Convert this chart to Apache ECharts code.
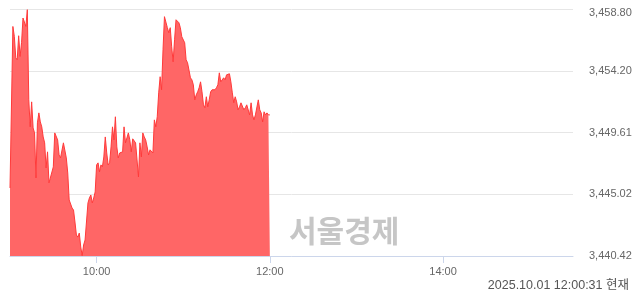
<!DOCTYPE html>
<html>
<head>
<meta charset="utf-8">
<script src="https://cdn.jsdelivr.net/npm/echarts@6/dist/echarts.min.js"></script>
<style>
html,body{margin:0;padding:0;background:#fff;}
#c{width:640px;height:294px;}
</style>
</head>
<body>
<div id="c"></div>
<script>
// ---- data ----
var times = [
"09:00","09:02","09:03","09:04","09:05","09:06","09:07","09:08","09:09","09:10",
"09:11","09:12","09:13","09:14","09:15","09:16","09:17","09:18","09:19","09:20",
"09:21","09:22","09:23","09:24","09:25","09:26","09:27","09:28","09:30","09:31",
"09:33","09:34","09:35","09:37","09:38","09:39","09:40","09:41","09:42","09:43",
"09:44","09:45","09:46","09:47","09:48","09:49","09:50","09:51","09:52","09:53",
"09:54","09:55","09:56","09:57","09:58","09:59","10:00","10:01","10:02","10:03",
"10:04","10:05","10:06","10:07","10:08","10:09","10:10","10:11","10:12","10:13",
"10:14","10:15","10:16","10:17","10:18","10:19","10:20","10:21","10:22","10:23",
"10:24","10:25","10:26","10:27","10:28","10:29","10:30","10:31","10:32","10:33",
"10:34","10:35","10:36","10:37","10:38","10:39","10:40","10:41","10:42","10:43",
"10:44","10:45","10:46","10:47","10:48","10:49","10:50","10:51","10:52","10:53",
"10:54","10:55","10:57","10:58","10:59","11:00","11:01","11:02","11:03","11:04",
"11:05","11:06","11:07","11:08","11:09","11:10","11:11","11:12","11:13","11:14",
"11:15","11:16","11:17","11:18","11:19","11:20","11:22","11:23","11:24","11:25",
"11:26","11:27","11:28","11:29","11:30","11:31","11:32","11:33","11:34","11:35",
"11:36","11:37","11:38","11:39","11:40","11:41","11:42","11:43","11:44","11:45",
"11:46","11:47","11:48","11:49","11:50","11:51","11:52","11:53","11:54","11:55",
"11:56","11:57","11:58","11:59","12:00"
];
var values = [
3445.48,3457.50,3456.76,3455.17,3455.02,3456.81,3455.27,3456.29,3458.13,3458.13,
3457.50,3458.75,3452.04,3450.03,3451.89,3449.95,3449.58,3446.23,3450.33,3451.07,
3450.40,3450.03,3449.28,3448.84,3446.97,3448.17,3445.86,3445.93,3447.05,3449.58,
3449.06,3447.94,3447.72,3448.84,3448.84,3447.72,3446.60,3444.59,3444.59,3443.99,
3443.84,3442.95,3441.98,3441.83,3442.13,3441.09,3440.45,3441.24,3441.61,3441.61,
3444.37,3444.74,3444.96,3444.37,3444.74,3445.19,3447.20,3447.35,3446.68,3447.20,
3447.05,3447.79,3449.28,3448.09,3447.20,3447.35,3448.54,3450.03,3449.06,3450.78,
3448.54,3447.72,3448.09,3448.17,3448.17,3450.03,3448.84,3448.84,3449.58,3449.06,
3448.17,3449.14,3449.28,3448.84,3447.57,3446.30,3448.84,3447.79,3449.58,3449.28,
3449.06,3448.54,3447.94,3448.32,3448.46,3448.09,3450.55,3450.03,3450.78,3452.56,
3453.76,3452.79,3455.77,3458.23,3458.23,3457.41,3457.03,3457.41,3455.99,3454.87,
3456.51,3458.00,3457.78,3457.41,3456.74,3456.74,3456.29,3455.02,3454.80,3454.80,
3453.68,3453.53,3453.16,3452.04,3452.41,3452.64,3452.94,3453.38,3452.64,3451.67,
3451.45,3452.27,3451.52,3452.04,3452.64,3452.79,3452.79,3452.94,3453.16,3454.05,
3453.38,3453.31,3453.68,3453.53,3453.90,3453.76,3453.98,3453.38,3452.56,3451.82,
3452.27,3451.89,3451.30,3451.52,3451.82,3451.89,3451.30,3451.45,3451.67,3451.59,
3450.92,3451.82,3450.92,3450.55,3450.92,3450.78,3452.04,3451.30,3451.07,3450.40,
3451.15,3450.92,3451.07,3450.92,3450.92
];
var yTicks = [3440.42, 3445.02, 3449.61, 3454.20, 3458.80];
var xTickLabels = ["10:00", "12:00", "14:00"];
var sessionStart = "09:00";
var sessionEnd = "15:30";
var stampText = "2025.10.01 12:00:31 현재";
var watermarkText = "서울경제";

// ---- helpers ----
function toMin(t){ var p=t.split(":"); return (+p[0])*60 + (+p[1]); }
var base = toMin(sessionStart);
var seriesData = times.map(function(t,i){ return [toMin(t)-base, values[i]]; });
var xTickVals = xTickLabels.map(function(t){ return toMin(t)-base; });
var yMax = yTicks[yTicks.length-1];
function fmtNum(v){
  var s = v.toFixed(2); var parts = s.split(".");
  parts[0] = parts[0].replace(/\B(?=(\d{3})+(?!\d))/g, ",");
  var txt = parts.join(".");
  return Math.abs(v - yMax) < 1e-6 ? '{t|' + txt + '}' : txt;
}
function fmtTime(m){
  var t = base + m; var h = Math.floor(t/60), mm = Math.round(t%60);
  return (h<10?"0":"")+h+":"+(mm<10?"0":"")+mm;
}

var chart = echarts.init(document.getElementById('c'), null, {renderer:'canvas'});
var font = '"Liberation Sans", Arial, sans-serif';
chart.setOption({
  animation: false,
  backgroundColor: '#ffffff',
  grid: {left: 10, right: 67, top: 9, bottom: 38, containLabel: false},
  xAxis: {
    type: 'value',
    min: 0, max: toMin(sessionEnd) - base,
    axisLine: {show: true, lineStyle: {color: '#ccd6eb', width: 1}},
    axisTick: {show: true, customValues: xTickVals, length: 7, lineStyle: {color: '#ccd6eb'}},
    axisLabel: {customValues: xTickVals, formatter: fmtTime, color: '#666666', fontSize: 11, fontFamily: font, margin: 10},
    splitLine: {show: false}
  },
  yAxis: {
    type: 'value',
    position: 'right',
    min: yTicks[0], max: yMax,
    axisLine: {show: false},
    axisTick: {show: false, customValues: yTicks},
    axisLabel: {customValues: yTicks, formatter: fmtNum, color: '#666666', fontSize: 11, fontFamily: font, margin: 16,
      rich: {t: {color: '#666666', fontSize: 11, fontFamily: font, padding: [8, 0, 0, 0]}}},
    splitLine: {show: true, lineStyle: {color: '#e6e6e6', width: 1}}
  },
  series: [{
    type: 'line',
    data: seriesData,
    showSymbol: false,
    smooth: false,
    lineStyle: {color: '#ff3a3a', width: 1},
    areaStyle: {color: '#ff6666', opacity: 1, origin: 'start'},
    z: 3
  }],
  graphic: [
    {type: 'text', left: 289, top: 216, z: 10,
     style: {text: watermarkText, fill: '#c6c6c6', font: 'bold 30px "Noto Sans CJK KR", sans-serif'}},
    {type: 'text', right: 11, top: 279, z: 10,
     style: {text: stampText, fill: '#555555', font: '12.5px "Liberation Sans", "Noto Sans CJK KR", sans-serif'}}
  ]
});
</script>
</body>
</html>
